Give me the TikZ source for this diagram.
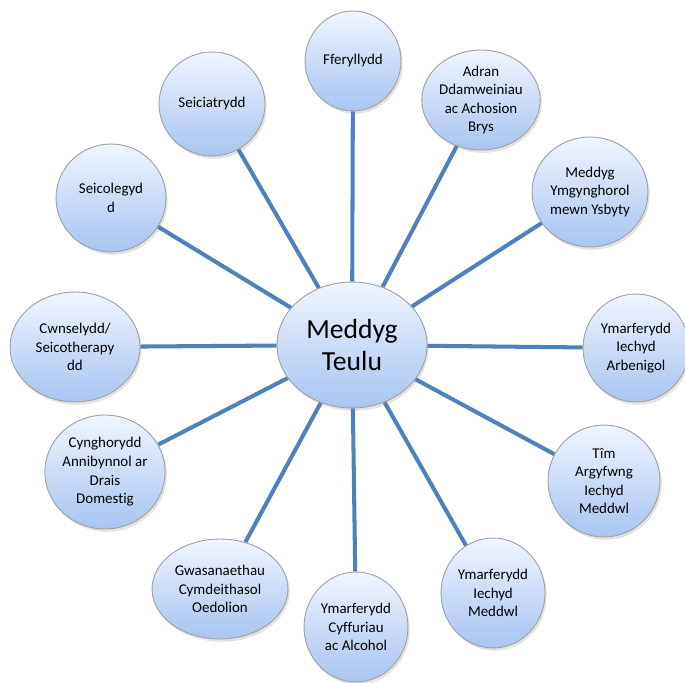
\documentclass[tikz,border=0pt]{standalone}
\usepackage{fontspec}
\setmainfont{Carlito}[Ligatures=NoCommon]
\usetikzlibrary{shapes.geometric,shadows,backgrounds}
\definecolor{spoke}{RGB}{79,129,189}
\definecolor{bubtop}{RGB}{240,245,254}
\definecolor{bubbot}{RGB}{168,196,240}
\begin{document}
\begin{tikzpicture}[x=0.02cm, y=-0.02cm,
			bubble/.style={ellipse, draw=gray!75, line width=0.5pt, top color=bubtop, bottom color=bubbot,
			  inner sep=0pt, align=center, font=\fontsize{8.5}{10.6}\selectfont,
			  drop shadow={opacity=0.22, shadow xshift=1pt, shadow yshift=-1.6pt}},
			spoke line/.style={spoke, line width=2.3pt}]
			\useasboundingbox (0,0) rectangle (685,682);
			
			\node[bubble, minimum width=6cm*0.5, minimum height=5.04cm*0.5,
			  font=\fontsize{15.7}{18.5}\selectfont] (teulu) at (352,345) {Meddyg\\Teulu};
			\foreach \nm/\px/\py/\rx/\ry/\txt in {
			  ffer/353/61/48/50/{Fferyllydd},
			  adran/481/100/57/50/{Adran\\Ddamweiniau\\ac Achosion\\Brys},
			  ysbyty/590/192/58/55/{Meddyg\\Ymgynghorol\\mewn Ysbyty},
			  arben/636/348/53/54/{Ymarferydd\\Iechyd\\Arbenigol},
			  tim/604/481/56/56/{Tîm\\Argyfwng\\Iechyd\\Meddwl},
			  meddwl/493/593/52/55/{Ymarferydd\\Iechyd\\Meddwl},
			  alcohol/356/627/52/55/{Ymarferydd\\Cyffuriau\\ac Alcohol},
			  oedolion/220/589/68/50/{Gwasanaethau\\Cymdeithasol\\Oedolion},
			  trais/105/472/60/57/{Cynghorydd\\Annibynnol ar\\Drais\\Domestig},
			  cwnsel/75/347/65/55/{Cwnselydd/\\Seicotherapy\\dd},
			  seicol/111/198/55/54/{Seicolegyd\\d},
			  seiciat/212/104/53/52/{Seiciatrydd}}{
			    \node[bubble, minimum width=\rx*0.04cm, minimum height=\ry*0.04cm] (\nm) at (\px,\py) {\txt};
			}
			\begin{pgfonlayer}{background}
			  \foreach \nm in {ffer,adran,ysbyty,arben,tim,meddwl,alcohol,oedolion,trais,cwnsel,seicol,seiciat}{
			      \draw[spoke line] (teulu) -- (\nm);
			  }
			\end{pgfonlayer}
		\end{tikzpicture}
\end{document}
